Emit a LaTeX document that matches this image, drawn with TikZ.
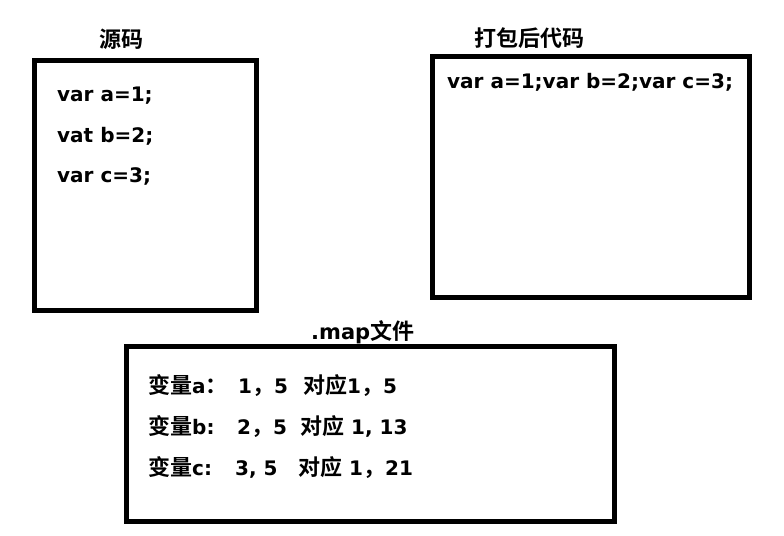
\documentclass[tikz,border=0pt]{standalone}
\usepackage{fontspec}
\setmainfont{DejaVu Sans}
\newfontfamily\cjk{Noto Sans CJK SC}[BoldFont={Noto Sans CJK SC Bold}]
\newcommand\cjb{\cjk\fontsize{22bp}{26bp}\selectfont}
\begin{document}
\begin{tikzpicture}[x=1bp,y=-1bp,
  frame/.style={draw=black,line width=5bp},
  txt/.style={anchor=base west,inner sep=0pt,font=\fontsize{20bp}{24bp}\selectfont\bfseries},
  ttl/.style={anchor=base west,inner sep=0pt,font=\fontsize{22bp}{26bp}\selectfont\bfseries}]
\useasboundingbox (0,0) rectangle (784,536);
% boxes
\draw[frame] (34,61) rectangle (256.5,310);
\draw[frame] (432.5,56.5) rectangle (749.5,297.5);
\draw[frame] (126.5,346) rectangle (614.5,521);
% titles
\node[ttl] (t1) at (99,48) {\cjk 源码};
\node[ttl] (t2) at (474,47) {\cjk 打包后代码};
\node[ttl,font=\fontsize{21bp}{26bp}\selectfont\bfseries] (t3) at (311,339) {.map{\cjb 文件}};
% source code
\node[txt] (s1) at (57,102) {var a=1;};
\node[txt] (s2) at (57,143) {vat b=2;};
\node[txt] (s3) at (57,183) {var c=3;};
% bundled
\node[txt] (b1) at (447,89) {var a=1;var b=2;var c=3;};
% map
\node[txt] (m1a) at (148,393) {{\cjb 变量}a{\cjb ：}};
\node[txt] (m1b) at (238,393) {1{\cjb ，}5};
\node[txt] (m1c) at (303,393) {{\cjb 对应}1{\cjb ，}5};
\node[txt] (m2a) at (148,434) {{\cjb 变量}b:};
\node[txt] (m2b) at (237,434) {2{\cjb ，}5};
\node[txt] (m2c) at (300,434) {{\cjb 对应} 1, 13};
\node[txt] (m3a) at (148,475) {{\cjb 变量}c:};
\node[txt] (m3b) at (235,475) {3, 5};
\node[txt] (m3c) at (298,475) {{\cjb 对应} 1{\cjb ，}21};
\end{tikzpicture}
\end{document}
